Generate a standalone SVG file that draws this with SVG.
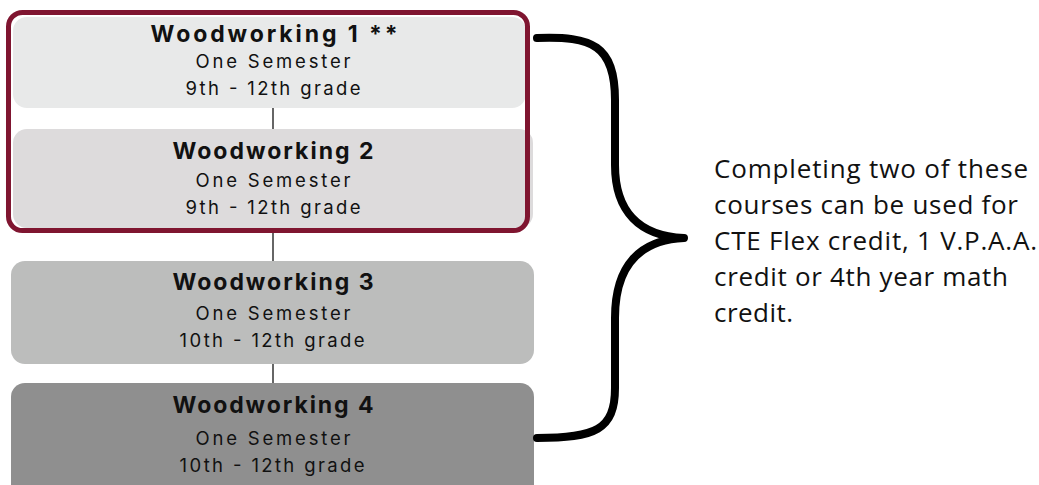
<svg xmlns="http://www.w3.org/2000/svg" width="1039" height="485" viewBox="0 0 1039 485">
<style>
.h{font-family:Inter,"Open Sans",sans-serif;font-weight:700;font-size:23px;fill:#111;text-anchor:middle}
.s{font-family:Inter,"Open Sans",sans-serif;font-size:18.5px;fill:#111;text-anchor:middle}
.r{font-family:"Open Sans",sans-serif;font-size:26px;fill:#111}
.c{stroke:#333;stroke-width:1.5;fill:none}
</style>
<rect width="1039" height="485" fill="#fff"/>
<g id="connectors">
<line class="c" x1="273" y1="108" x2="273" y2="129"/>
<line class="c" x1="273" y1="232" x2="273" y2="261"/>
<line class="c" x1="273" y1="364" x2="273" y2="383"/>
</g>
<g id="node2">
<rect x="13" y="129" width="520" height="99" rx="14" fill="#dddbdc"/>
<text class="h" x="273" y="159" textLength="201" lengthAdjust="spacing">Woodworking 2</text>
<text class="s" x="273" y="187" textLength="155" lengthAdjust="spacing">One Semester</text>
<text class="s" x="273" y="214" textLength="175" lengthAdjust="spacing">9th - 12th grade</text>
</g>
<g id="node1">
<rect x="13" y="17" width="513" height="91" rx="14" fill="#e8e9e9"/>
<text class="h" x="274" y="42" textLength="247" lengthAdjust="spacing">Woodworking 1 **</text>
<text class="s" x="273" y="68" textLength="155" lengthAdjust="spacing">One Semester</text>
<text class="s" x="273" y="95" textLength="175" lengthAdjust="spacing">9th - 12th grade</text>
</g>
<g id="group-outline">
<rect x="8.5" y="12.5" width="519" height="218" rx="14" fill="none" stroke="#7f1530" stroke-width="5"/>
</g>
<g id="node3">
<rect x="11" y="261" width="523" height="103" rx="14" fill="#bcbdbc"/>
<text class="h" x="273" y="290" textLength="201" lengthAdjust="spacing">Woodworking 3</text>
<text class="s" x="273" y="320" textLength="155" lengthAdjust="spacing">One Semester</text>
<text class="s" x="272" y="347" textLength="185" lengthAdjust="spacing">10th - 12th grade</text>
</g>
<g id="node4">
<rect x="11" y="383" width="523" height="115" rx="14" fill="#8f8f8f"/>
<text class="h" x="273" y="413" textLength="201" lengthAdjust="spacing">Woodworking 4</text>
<text class="s" x="273" y="445" textLength="155" lengthAdjust="spacing">One Semester</text>
<text class="s" x="272" y="472" textLength="185" lengthAdjust="spacing">10th - 12th grade</text>
</g>
<g id="brace">
<path d="M537,38 C592,36 615,45 615,100 L615,165 C615,212 640,236 684,238 C640,240 615,265 615,318 L615,388 C615,430 595,438 537,438" fill="none" stroke="#000" stroke-width="8" stroke-linecap="round" stroke-linejoin="round"/>
</g>
<g id="note">
<text class="r" x="714" y="178" textLength="314" lengthAdjust="spacing">Completing two of these</text>
<text class="r" x="714" y="214" textLength="304" lengthAdjust="spacing">courses can be used for</text>
<text class="r" x="714" y="250" textLength="323" lengthAdjust="spacing">CTE Flex credit, 1 V.P.A.A.</text>
<text class="r" x="714" y="286" textLength="294" lengthAdjust="spacing">credit or 4th year math</text>
<text class="r" x="714" y="322" textLength="79" lengthAdjust="spacing">credit.</text>
</g>
</svg>
